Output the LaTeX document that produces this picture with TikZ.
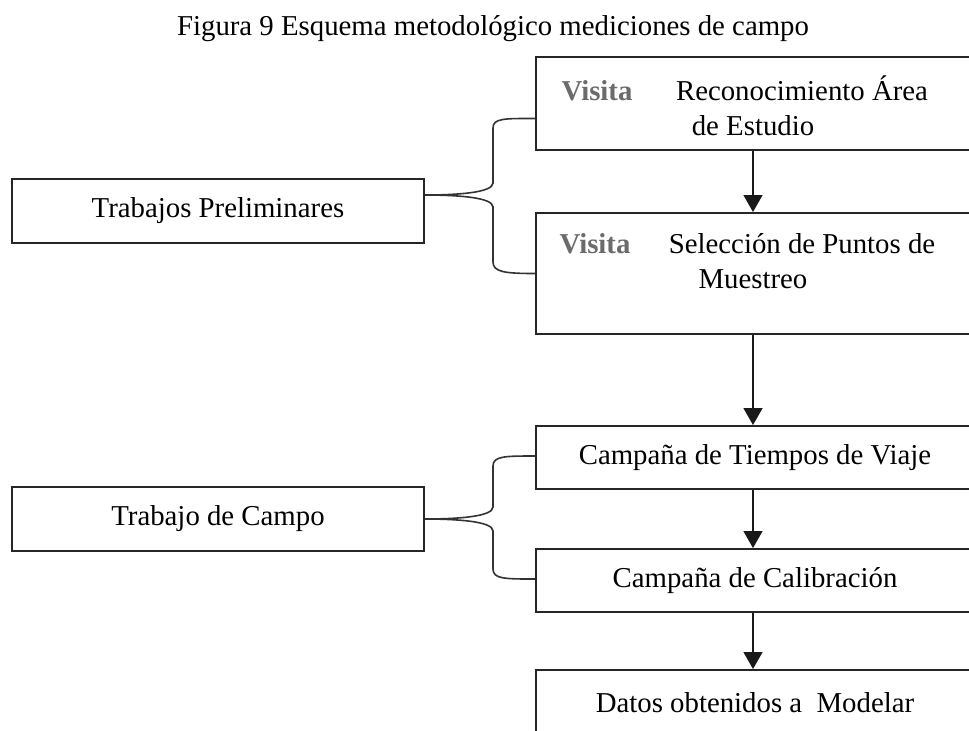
\documentclass[tikz,border=0pt]{standalone}
\usepackage{fontspec}
\setmainfont{Liberation Serif}
\usetikzlibrary{arrows.meta,calc}

\tikzset{
  caja/.style={draw=black!85, line width=1pt, minimum width=219pt, inner sep=0pt,
    font=\fontsize{14.4}{17}\selectfont},
  texto/.style={anchor=base, inner sep=0pt, font=\fontsize{14.4}{17}\selectfont},
  visita/.style={texto, text=black!58, font=\fontsize{14.4}{17}\selectfont\bfseries},
  flecha/.style={draw=black!90, line width=0.7pt, -{Triangle[width=9.5pt,length=8.5pt]}},
  llave/.style={draw=black!80, line width=0.8pt}
}

\begin{document}
\begin{tikzpicture}[x=0.5pt,y=-0.5pt]

\useasboundingbox (0,0) rectangle (969,730);
\clip (0,0) rectangle (969,730);

\node[texto] (titulo) at (493,35) {Figura 9 Esquema metodológico mediciones de campo};

% columna derecha
\node[caja, minimum height=46.5pt] (recon) at (755,103.5) {};
\node[caja, minimum height=60.5pt] (selec) at (755,273.5) {};
\node[caja, minimum height=31.5pt] (tiempos) at (755,457.5) {Campaña de Tiempos de Viaje};
\node[caja, minimum height=31.5pt] (calib) at (755,580.5) {Campaña de Calibración};
\node[caja, minimum height=33pt] (datos) at (755,703) {Datos obtenidos a\ \ Modelar};

\node[visita] (visA) at (597,100) {Visita};
\node[texto] (reconA) at (802,100) {Reconocimiento Área};
\node[texto] (reconB) at (753,135) {de Estudio};
\node[visita] (visB) at (595,253) {Visita};
\node[texto] (selecA) at (802,253) {Selección de Puntos de};
\node[texto] (selecB) at (753,288) {Muestreo};

% columna izquierda
\node[caja, minimum width=206pt, minimum height=32pt] (prelim) at (218,211) {Trabajos Preliminares};
\node[caja, minimum width=206pt, minimum height=32pt] (campo) at (218,519) {Trabajo de Campo};

% flechas
\draw[flecha] (recon.south -| reconB) -- (selec.north -| reconB);
\draw[flecha] (selec.south -| reconB) -- (tiempos.north -| reconB);
\draw[flecha] (tiempos.south -| reconB) -- (calib.north -| reconB);
\draw[flecha] (calib.south -| reconB) -- (datos.north -| reconB);

% llaves
\coordinate (puntaA) at ($(prelim.east)+(0,-16)$);
\draw[llave] ($(recon.west)+(0,15)$) .. controls +(-30,0) and +(0,-10) .. (493,128)
  -- (493,183) .. controls +(0,10) and +(30,0) .. (puntaA)
  .. controls +(30,0) and +(0,-10) .. (493,207)
  -- (493,262) .. controls +(0,10) and +(-30,0) .. (selec.west);

\draw[llave] ($(tiempos.west)+(0,-1.5)$) .. controls +(-30,0) and +(0,-10) .. (493,466)
  -- (493,507) .. controls +(0,10) and +(30,0) .. (campo.east)
  .. controls +(30,0) and +(0,-10) .. (493,531)
  -- (493,569) .. controls +(0,10) and +(-30,0) .. ($(calib.west)+(0,-1.5)$);

\end{tikzpicture}
\end{document}
